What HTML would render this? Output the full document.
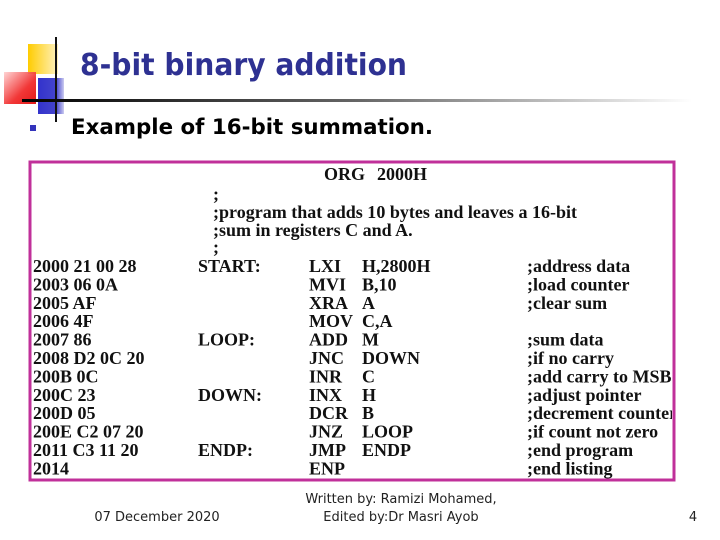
<!DOCTYPE html>
<html><head><meta charset="utf-8"><style>
html,body{margin:0;padding:0;background:#fff;}
svg{display:block;}
.c{font-family:"Liberation Serif",serif;font-weight:bold;font-size:18px;fill:#111;}
.f{font-family:"DejaVu Sans","Liberation Sans",sans-serif;font-size:13px;fill:#222;}
</style></head><body>
<svg width="720" height="540" viewBox="0 0 720 540">
<defs>
<linearGradient id="hl" x1="0" x2="1"><stop offset="0" stop-color="#000"/><stop offset="0.5" stop-color="#666"/><stop offset="1" stop-color="#fff"/></linearGradient>
<linearGradient id="rg" x1="0" y1="0" x2="1" y2="1"><stop offset="0" stop-color="#ffd0d0"/><stop offset="0.6" stop-color="#f02020"/><stop offset="1" stop-color="#e00000"/></linearGradient>
<linearGradient id="yg" x1="0" x2="1"><stop offset="0" stop-color="#ffcc00"/><stop offset="1" stop-color="#fff2c0"/></linearGradient>
<linearGradient id="bg" x1="0" x2="1"><stop offset="0" stop-color="#3333cc"/><stop offset="0.7" stop-color="#4444cc"/><stop offset="1" stop-color="#ccccf0"/></linearGradient>
<clipPath id="box"><rect x="30" y="162" width="642" height="318"/></clipPath>
</defs>
<g>
<rect x="28" y="44" width="30" height="30" fill="url(#yg)"/>
<rect x="38" y="78" width="26" height="36" fill="url(#bg)"/>
<rect x="4" y="72" width="32" height="32" fill="url(#rg)" opacity="0.9"/>
<rect x="55" y="37" width="2" height="85" fill="#111"/>
<rect x="22" y="99" width="670" height="3" fill="url(#hl)"/>
</g>
<text x="80" y="75" textLength="327" lengthAdjust="spacingAndGlyphs" font-family="'DejaVu Sans','Liberation Sans',sans-serif" font-weight="bold" font-size="30" fill="#2e3192">8-bit binary addition</text>
<rect x="30" y="125" width="6" height="6" fill="#3333bb"/>
<text x="71" y="134" textLength="362" lengthAdjust="spacingAndGlyphs" font-family="'DejaVu Sans','Liberation Sans',sans-serif" font-weight="bold" font-size="21" fill="#000">Example of 16-bit summation.</text>
<g>
<rect x="30" y="162" width="644" height="318" fill="#fff"/>
<g clip-path="url(#box)">
<text class="c" x="324" y="180">ORG</text>
<text class="c" x="377" y="180">2000H</text>
<text class="c" x="213" y="200">;</text>
<text class="c" x="213" y="218" textLength="364" lengthAdjust="spacingAndGlyphs">;program that adds 10 bytes and leaves a 16-bit</text>
<text class="c" x="213" y="236">;sum in registers C and A.</text>
<text class="c" x="213" y="253">;</text>
<g id="rows"></g>
</g>
<rect x="30" y="162" width="644" height="318" fill="none" stroke="#c0309a" stroke-width="3"/>
</g>
<text class="f" x="157" y="521" text-anchor="middle">07 December 2020</text>
<text class="f" x="401" y="503" text-anchor="middle">Written by: Ramizi Mohamed,</text>
<text class="f" x="401" y="521" text-anchor="middle">Edited by:Dr Masri Ayob</text>
<text class="f" x="693" y="521" text-anchor="middle">4</text>
</svg>
<script>
const rows=[
["2000 21 00 28","START:","LXI","H,2800H",";address data"],
["2003 06 0A","","MVI","B,10",";load counter"],
["2005 AF","","XRA","A",";clear sum"],
["2006 4F","","MOV","C,A",""],
["2007 86","LOOP:","ADD","M",";sum data"],
["2008 D2 0C 20","","JNC","DOWN",";if no carry"],
["200B 0C","","INR","C",";add carry to MSB s"],
["200C 23","DOWN:","INX","H",";adjust pointer"],
["200D 05","","DCR","B",";decrement counter"],
["200E C2 07 20","","JNZ","LOOP",";if count not zero"],
["2011 C3 11 20","ENDP:","JMP","ENDP",";end program"],
["2014","","ENP","",";end listing"]];
const xs=[33,198,309,362,527];
const g=document.getElementById('rows');
rows.forEach((r,i)=>{r.forEach((t,j)=>{if(!t)return;
const el=document.createElementNS('http://www.w3.org/2000/svg','text');
el.setAttribute('class','c');el.setAttribute('x',xs[j]);el.setAttribute('y',272+i*18.4);
el.textContent=t;


g.appendChild(el);});});
</script>
</body></html>
